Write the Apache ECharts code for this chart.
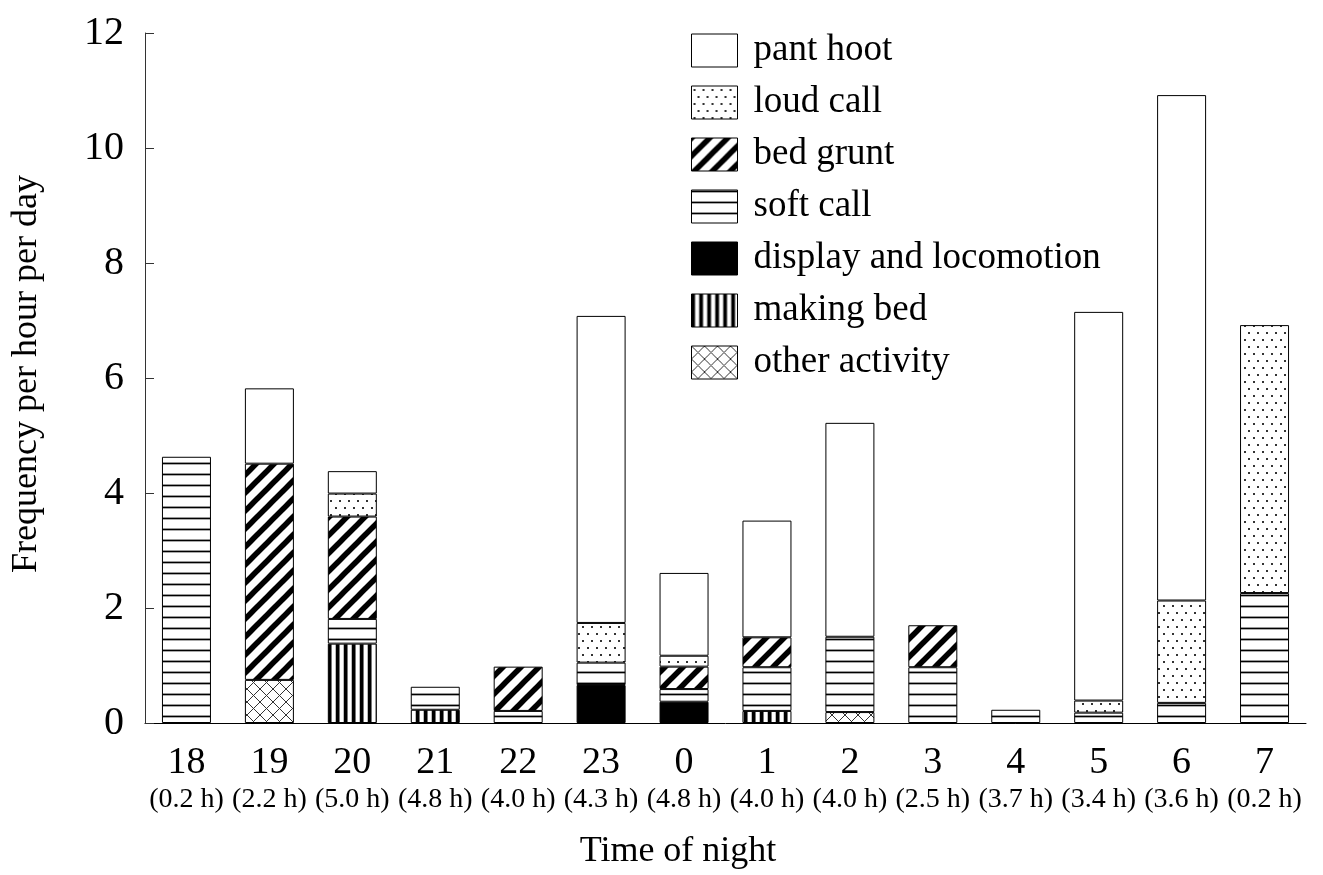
<!DOCTYPE html>
<html>
<head>
<meta charset="utf-8">
<script src="https://cdn.jsdelivr.net/npm/echarts@6/dist/echarts.min.js"></script>
<style>
html,body{margin:0;padding:0;background:#fff;}
#chart{width:1323px;height:875px;}
</style>
</head>
<body>
<div id="chart"></div>
<script>
// ---- data ----
var categories = ['18','19','20','21','22','23','0','1','2','3','4','5','6','7'];
var hoursObserved = ['0.2','2.2','5.0','4.8','4.0','4.3','4.8','4.0','4.0','2.5','3.7','3.4','3.6','0.2'];
var otherActivity = [0, 0.75, 0, 0, 0, 0, 0, 0, 0.19, 0, 0, 0, 0, 0];
var makingBed     = [0, 0, 1.38, 0.23, 0, 0, 0, 0.21, 0, 0, 0, 0, 0, 0];
var displayLoco   = [0, 0, 0, 0, 0, 0.66, 0.37, 0, 0, 0, 0, 0, 0, 0];
var softCall      = [4.63, 0, 0.43, 0.40, 0.21, 0.39, 0.22, 0.76, 1.31, 0.97, 0.23, 0.18, 0.35, 2.26];
var bedGrunt      = [0, 3.76, 1.78, 0, 0.77, 0, 0.39, 0.52, 0, 0.73, 0, 0, 0, 0];
var loudCall      = [0, 0, 0.40, 0, 0, 0.69, 0.19, 0, 0, 0, 0, 0.21, 1.78, 4.66];
var pantHoot      = [0, 1.31, 0.39, 0, 0, 5.34, 1.44, 2.03, 3.72, 0, 0, 6.76, 8.79, 0];
var yTicks = {min: 0, max: 12, interval: 2};

// ---- patterns ----
function makeCanvas(w, h, draw) {
  var c = document.createElement('canvas');
  c.width = w; c.height = h;
  var ctx = c.getContext('2d');
  ctx.fillStyle = '#fff'; ctx.fillRect(0, 0, w, h);
  draw(ctx, w, h);
  return {image: c, repeat: 'repeat'};
}
var patHLines = makeCanvas(4, 11, function (ctx, w) {
  ctx.fillStyle = '#999'; ctx.fillRect(0, 0, w, 1);
  ctx.fillStyle = '#000'; ctx.fillRect(0, 1, w, 1);
  ctx.fillStyle = '#aaa'; ctx.fillRect(0, 2, w, 1);
});
var patVLines = makeCanvas(8, 4, function (ctx, w, h) {
  ctx.fillStyle = '#000'; ctx.fillRect(0, 0, 3, h);
  ctx.fillStyle = '#777'; ctx.fillRect(3, 0, 1, h);
  ctx.fillStyle = '#bbb'; ctx.fillRect(7, 0, 1, h);
});
var patDiag = makeCanvas(18, 18, function (ctx, w, h) {
  ctx.strokeStyle = '#000'; ctx.lineWidth = 5.5; ctx.lineCap = 'butt';
  // lines x + y = c for c = 0, w, 2w, extended past the tile edges
  for (var k = 0; k <= 2; k++) {
    var c = k * w;
    ctx.beginPath(); ctx.moveTo(c + 10, -10); ctx.lineTo(c - h - 10, h + 10); ctx.stroke();
  }
});
var patDots = makeCanvas(9, 14, function (ctx) {
  ctx.fillStyle = '#333';
  ctx.fillRect(2, 3, 2, 2);
  ctx.fillRect(6, 10, 2, 2);
});
var patCross = makeCanvas(13, 13, function (ctx, w, h) {
  ctx.strokeStyle = '#333'; ctx.lineWidth = 1;
  ctx.beginPath(); ctx.moveTo(-2, -2); ctx.lineTo(w + 2, h + 2); ctx.stroke();
  ctx.beginPath(); ctx.moveTo(w + 2, -2); ctx.lineTo(-2, h + 2); ctx.stroke();
});

var FONT = 'Liberation Serif';
function clean(arr) { return arr.map(function (v) { return v === 0 ? null : v; }); }
function barSeries(name, data, fill) {
  return {
    name: name, type: 'bar', stack: 'total', data: clean(data),
    barWidth: 49,
    itemStyle: {color: fill, borderColor: '#000', borderWidth: 1},
    emphasis: {disabled: true}
  };
}

var chart = echarts.init(document.getElementById('chart'), null, {renderer: 'canvas'});
chart.setOption({
  animation: false,
  backgroundColor: '#fff',
  grid: {left: 145, right: 17, top: 33, bottom: 152, containLabel: false},
  legend: {
    orient: 'vertical', left: 691, top: 32, padding: 0,
    icon: 'rect', itemWidth: 46, itemHeight: 33, itemGap: 15,
    itemStyle: {borderColor: '#000', borderWidth: 1},
    textStyle: {fontFamily: FONT, fontSize: 37, color: '#000', lineHeight: 33, padding: [0, 0, 0, 11]},
    data: ['pant hoot', 'loud call', 'bed grunt', 'soft call', 'display and locomotion', 'making bed', 'other activity'],
    selectedMode: false
  },
  xAxis: {
    type: 'category', data: categories,
    axisLine: {lineStyle: {color: '#000', width: 1}},
    axisTick: {show: false},
    axisLabel: {
      interval: 0, margin: 21, color: '#000',
      formatter: function (v, i) { return '{a|' + v + '}\n{b|(' + hoursObserved[i] + ' h)}'; },
      rich: {
        a: {fontFamily: FONT, fontSize: 38, lineHeight: 38, color: '#000'},
        b: {fontFamily: FONT, fontSize: 28, lineHeight: 36, color: '#000'}
      }
    }
  },
  yAxis: {
    type: 'value', min: yTicks.min, max: yTicks.max, interval: yTicks.interval,
    splitLine: {show: false},
    axisLine: {show: true, lineStyle: {color: '#333', width: 1}},
    axisTick: {show: true, inside: true, length: 9, lineStyle: {color: '#333'}},
    axisLabel: {fontFamily: FONT, fontSize: 40, color: '#000', margin: 21}
  },
  graphic: [
    {type: 'text', x: 27, y: 374, rotation: Math.PI / 2,
     style: {text: 'Frequency per hour per day', font: '36px "Liberation Serif"', fill: '#000', textAlign: 'center', textVerticalAlign: 'middle'}},
    {type: 'text', x: 678, y: 852,
     style: {text: 'Time of night', font: '36px "Liberation Serif"', fill: '#000', textAlign: 'center', textVerticalAlign: 'middle'}}
  ],
  series: [
    barSeries('other activity', otherActivity, patCross),
    barSeries('making bed', makingBed, patVLines),
    barSeries('display and locomotion', displayLoco, '#000'),
    barSeries('soft call', softCall, patHLines),
    barSeries('bed grunt', bedGrunt, patDiag),
    barSeries('loud call', loudCall, patDots),
    barSeries('pant hoot', pantHoot, '#fff')
  ]
});
</script>
</body>
</html>
